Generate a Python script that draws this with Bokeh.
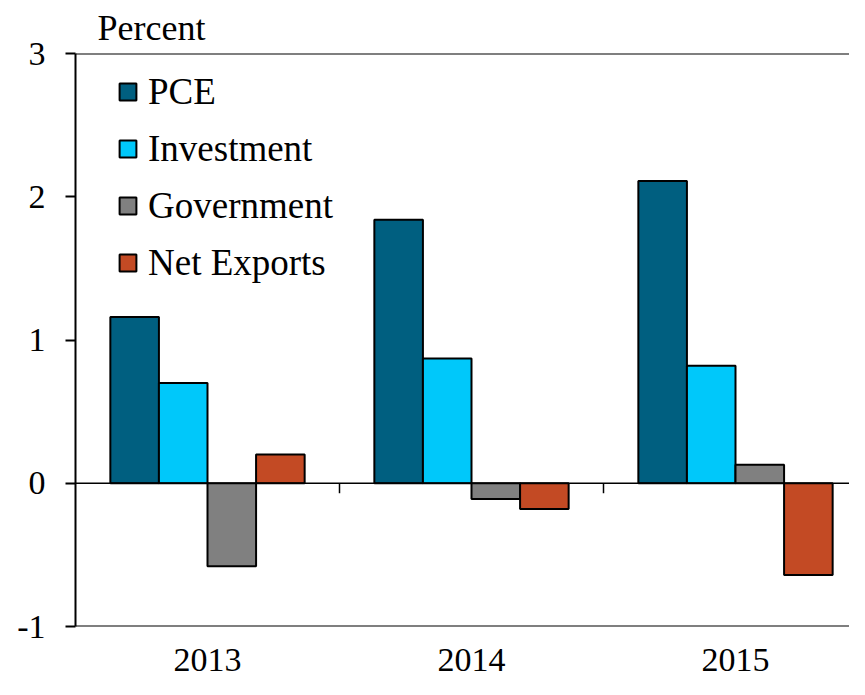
import numpy as np
from bokeh.plotting import figure
from bokeh.models import (ColumnDataSource, Range1d, FixedTicker, Span, Title,
                          Legend, LegendItem)
from bokeh.transform import dodge
from bokeh.embed import file_html
from bokeh.resources import INLINE

years = ["2013", "2014", "2015"]
pce = [1.16, 1.84, 2.11]
investment = [0.70, 0.87, 0.82]
government = [-0.58, -0.11, 0.13]
net_exports = [0.20, -0.18, -0.64]
y_ticks = [-1, 0, 1, 2, 3]

series = [("PCE", "pce", "#005F80"),
          ("Investment", "inv", "#00C8FA"),
          ("Government", "gov", "#808080"),
          ("Net Exports", "nx", "#C34A24")]

xc = list(np.arange(len(years)) + 0.5)
src = ColumnDataSource(dict(x=xc, pce=pce, inv=investment, gov=government, nx=net_exports))

FONT = "Liberation Serif"
W, H = 849, 679
ML, MT, FH = 75, 52, 574
FW = W - ML
unit_px = 264.0

p = figure(width=W, height=H, output_backend="svg", toolbar_location=None,
           x_range=Range1d(0, FW / unit_px), y_range=Range1d(-1, 3),
           min_border_left=ML, min_border_right=0, min_border_top=MT,
           min_border_bottom=H - MT - FH)
p.outline_line_color = None
p.xgrid.visible = False
p.ygrid.visible = False
p.background_fill_color = "white"
p.border_fill_color = "white"

bw = 0.184
renderers = []
for i, (name, col, color) in enumerate(series):
    off = (i - 1.5) * bw
    r = p.vbar(x=dodge("x", off), top=col, bottom=0, width=bw, source=src,
               fill_color=color, line_color="black", line_width=2)
    renderers.append((name, r))

# reference lines
p.add_layout(Span(location=0, dimension="width", line_color="black", line_width=1.5))
p.add_layout(Span(location=3, dimension="width", line_color="black", line_width=2))
p.add_layout(Span(location=-1, dimension="width", line_color="black", line_width=2))

# category separator ticks on zero line
bounds = list(np.arange(1, len(years)))
p.segment(x0=bounds, x1=bounds, y0=[0] * len(bounds), y1=[-10 / (FH / 4)] * len(bounds),
          line_color="black", line_width=1.5)

# y axis
ya = p.yaxis[0]
ya.ticker = FixedTicker(ticks=y_ticks)
ya.major_label_overrides = {t: str(t) for t in y_ticks}
ya.major_tick_out = 10
ya.major_tick_in = 0
ya.major_tick_line_width = 2
ya.minor_tick_line_color = None
ya.axis_line_width = 2
ya.major_label_standoff = 20
ya.major_label_text_font = FONT
ya.major_label_text_font_size = "34px"
ya.major_label_text_color = "black"

# x axis
xa = p.xaxis[0]
xa.ticker = FixedTicker(ticks=xc)
xa.major_label_overrides = {x: y for x, y in zip(xc, years)}
xa.axis_line_color = None
xa.major_tick_line_color = None
xa.minor_tick_line_color = None
xa.major_label_standoff = 16
xa.major_label_text_font = FONT
xa.major_label_text_font_size = "34px"
xa.major_label_text_color = "black"

# legend
legend = Legend(items=[LegendItem(label=n, renderers=[r]) for n, r in renderers],
                location=(42, 342), orientation="vertical",
                glyph_width=21, glyph_height=21, label_height=44, spacing=13,
                label_standoff=10, padding=0, margin=0,
                label_text_font=FONT, label_text_font_size="37px",
                label_text_color="black",
                border_line_color=None, background_fill_alpha=0)
p.add_layout(legend)

p.add_layout(Title(text="Percent", align="left", offset=22, standoff=11,
                   text_font=FONT, text_font_size="36px", text_font_style="normal",
                   text_color="black"), "above")

open("out.html", "w").write(file_html(p, INLINE))
